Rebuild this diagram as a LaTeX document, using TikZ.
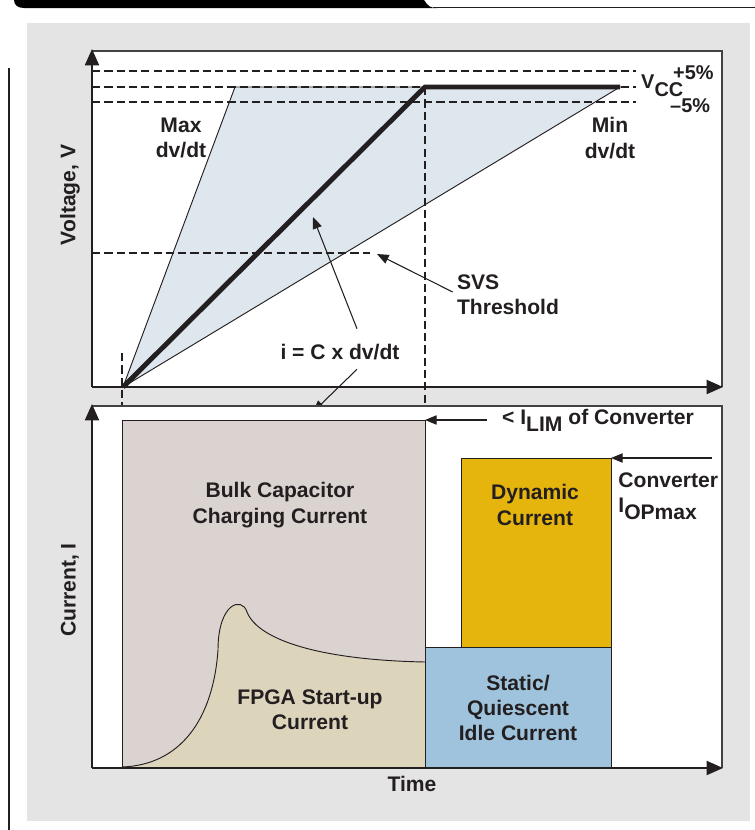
\documentclass[tikz,border=0pt]{standalone}
\usepackage{fontspec}
\setmainfont{Liberation Sans}
\usepackage{tikz}
\usetikzlibrary{calc,positioning,arrows.meta}

\definecolor{ink}{HTML}{231F20}
\definecolor{panel}{HTML}{E4E4E4}
\definecolor{rampfill}{HTML}{DFE7EE}
\definecolor{bulkfill}{HTML}{DBD3CF}
\definecolor{fpgafill}{HTML}{DDD4BC}
\definecolor{staticfill}{HTML}{9FC3DC}
\definecolor{dynfill}{HTML}{E5B50E}

\begin{document}
\begin{tikzpicture}[x=0.03cm, y=-0.03cm,
    lbl/.style={font=\fontsize{18}{21.5}\selectfont\bfseries, text=ink, align=center, inner sep=1pt},
    small/.style={font=\fontsize{17}{20}\selectfont\bfseries, text=ink, inner sep=0pt},
    axis/.style={draw=ink, line width=1.7pt, -{Triangle[length=14pt,width=12pt]}},
    frame/.style={draw=ink!85, line width=1.1pt},
    guide/.style={draw=ink, line width=1pt, dash pattern=on 7pt off 3.5pt},
    edge/.style={draw=ink, line width=0.8pt},
    note/.style={draw=ink, line width=0.9pt, -{Triangle[length=10pt,width=8pt]}}
]
    \useasboundingbox (0,0) rectangle (755,830);
    % page furniture
    \fill[panel] (27,23) rectangle (750,821);
    \fill[black] (14,0) -- (424,0) .. controls (428,6) and (430,8) .. (437,8) -- (24,8) .. controls (18,8) and (14,5) .. (14,0) -- cycle;
    \draw[ink, line width=0.9pt] (433,7.5) -- (755,7.5);
    \draw[ink, line width=1.1pt] (9,68) -- (9,830);

    % voltage plot
    \coordinate (vo) at (92,387);
    \coordinate (vtop) at (92,49);
    \coordinate (vend) at (723,387);
    \coordinate (start) at (123,387);
    \coordinate (fastTop) at (235,87);
    \coordinate (knee) at (425,87);
    \coordinate (slowTop) at (620,87);
    \coordinate (svsTip) at (377,254);
    \coordinate (rampPt) at (313,217);
    \coordinate (bulkPt) at (313,412);

    \fill[white] (92,51) rectangle (722,387);
    \draw[frame] (92,51) -- (722,51) -- (722,387);
    \filldraw[fill=rampfill, edge] (start) -- (fastTop) -- (slowTop) -- cycle;
    \draw[guide] (92,71) -- (636,71);
    \draw[guide] (92,87) -- (636,87);
    \draw[guide] (92,102) -- (636,102);
    \draw[guide] (92,253) -- (370,253);
    \draw[guide] (knee) -- (425,420);
    \draw[guide] (122,353) -- (122,420);
    \draw[ink, line width=4.2pt] (start) -- (knee) -- (slowTop);
    \draw[axis] (vo) -- (vtop);
    \draw[axis] (vo) -- (vend);

    \node[lbl] (maxr) at (181,138) {Max\\dv/dt};
    \node[lbl] (minr) at (610,138) {Min\\dv/dt};
    \node[small, anchor=base west] (vcc) at (641,88) {V\raisebox{-7pt}{CC}};
    \node[small, anchor=base west] (plus) at (673,79) {+5\%};
    \node[small, anchor=base west] (minus) at (670,112) {\textendash5\%};
    \node[lbl, align=left] (svs) at (508,295) {SVS\\Threshold};
    \node[lbl] (ic) at (340,352) {i = C x dv/dt};
    \draw[note] ($(svs.west)+(-3,-3)$) -- (svsTip);
    \draw[note] ($(ic.north)+(17,-14)$) -- (rampPt);
    \draw[note] ($(ic.south)+(17,8)$) -- (bulkPt);

    % current plot
    \coordinate (io) at (92,768);
    \coordinate (itop) at (92,404);
    \coordinate (iend) at (723,768);
    \coordinate (bulkNE) at (425,420);
    \coordinate (dynNE) at (611,458);
    \coordinate (opStart) at (712,458);

    \fill[white] (92,406) rectangle (722,768);
    \draw[frame] (92,406) -- (722,406) -- (722,768);
    \fill[bulkfill] (122,420) rectangle (425,768);
    \fill[fpgafill] (122,767) .. controls (180,765) and (213,720) .. (218,650)
        .. controls (218,603) and (242,596) .. (247,612)
        .. controls (258,640) and (320,660) .. (425,662) -- (425,768) -- (122,768) -- cycle;
    \draw[edge] (122,767) .. controls (180,765) and (213,720) .. (218,650)
        .. controls (218,603) and (242,596) .. (247,612)
        .. controls (258,640) and (320,660) .. (425,662);
    \draw[edge] (122,420) rectangle (425,768);
    \filldraw[fill=staticfill, edge] (425,647) rectangle (611,768);
    \filldraw[fill=dynfill, edge] (461,458) rectangle (611,647);
    \draw[axis] (io) -- (itop);
    \draw[axis] (io) -- (iend);

    \node[lbl] (bulk) at (280,505) {Bulk Capacitor\\Charging Current};
    \node[lbl] (fpga) at (310,710) {FPGA Start-up\\Current};
    \node[lbl] (dyn) at (535,505) {Dynamic\\Current};
    \node[lbl] (stat) at (518,708) {Static/\\Quiescent\\Idle Current};
    \node[lbl] (lim) at (598,420) {< I\raisebox{-6pt}{LIM} of Converter};
    \node[lbl, align=left, anchor=north west] (opmax) at (617,471) {Converter\\I\raisebox{-6pt}{OPmax}};
    \draw[note] ($(lim.west)+(-14,0)$) -- (bulkNE);
    \draw[note] (opStart) -- (dynNE);

    % axis titles
    \node[lbl] (time) at (412,784) {Time};
    \node[lbl, rotate=90] (vlab) at (70,195) {Voltage, V};
    \node[lbl, rotate=90] (ilab) at (70,590) {Current, I};
\end{tikzpicture}
\end{document}
